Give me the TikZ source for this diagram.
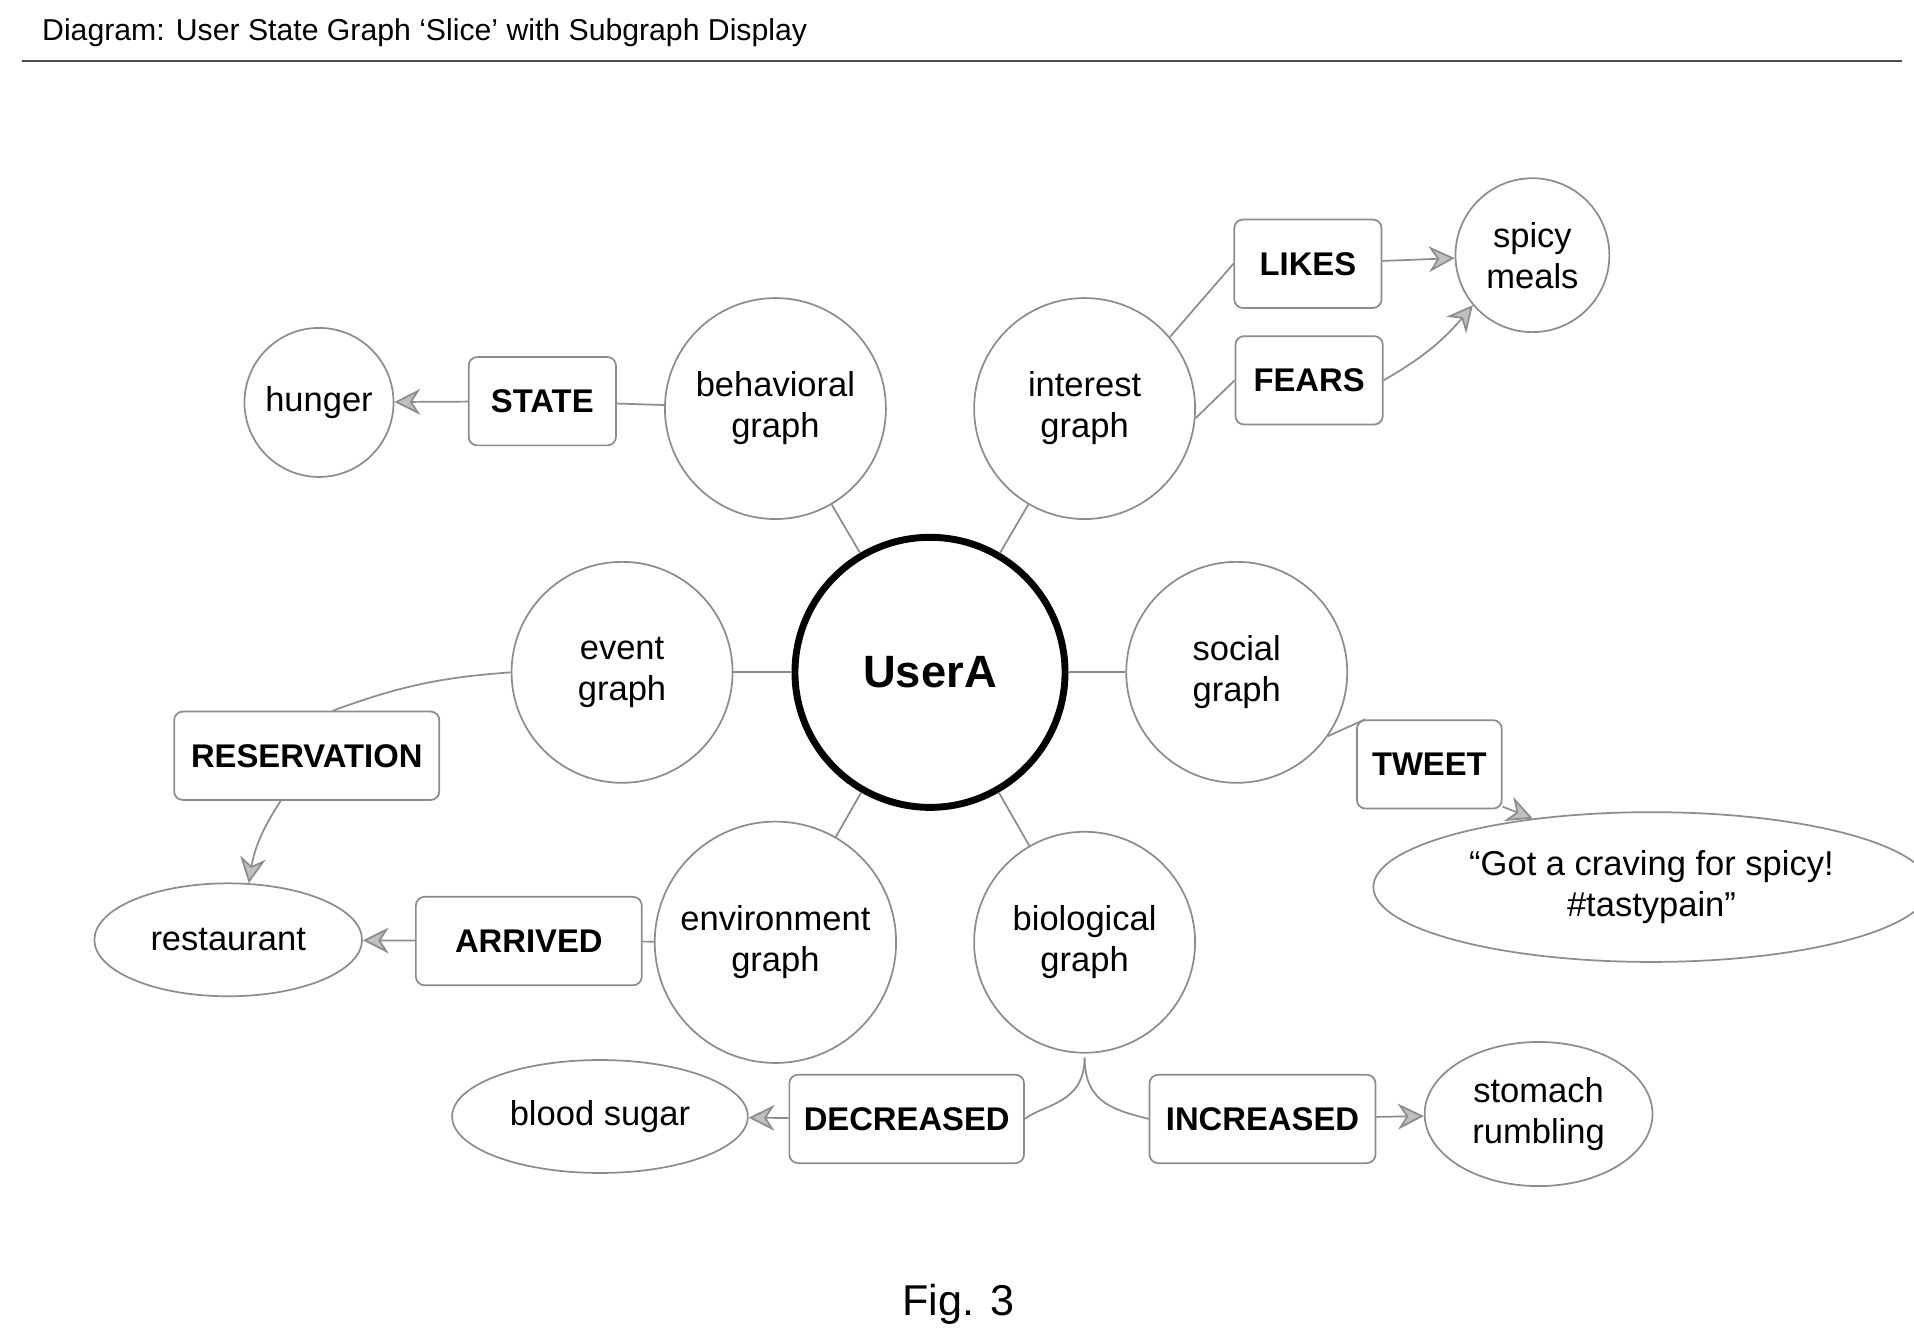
\documentclass[tikz,border=0pt]{standalone}
\usepackage{fontspec}
\setmainfont{Liberation Sans}
\usetikzlibrary{arrows.meta,shapes.geometric}
\tikzset{
  gnode/.style={draw=black!45,circle,minimum size=1.8cm,align=center,font=\fontsize{8}{9.5}\selectfont},
  leaf/.style={draw=black!45,circle,minimum size=1.16cm,align=center,font=\fontsize{8}{9.5}\selectfont},
  oval/.style={draw=black!45,ellipse,align=center,font=\fontsize{8}{9.5}\selectfont},
  rel/.style={draw=black!45,rounded corners=2pt,minimum height=0.72cm,font=\bfseries\fontsize{7.6}{9}\selectfont},
  link/.style={draw=black!45,thin},
  arr/.style={link,-{Stealth[length=6pt,width=6pt,fill=black!25]}}
}
\begin{document}
\begin{tikzpicture}[x=0.01cm,y=-0.01cm]
        \useasboundingbox (0,0) rectangle (1560,1095);
        \node[anchor=west,font=\fontsize{7}{8}\selectfont] (title) at (22,27) {Diagram: User State Graph `Slice' with Subgraph Display};
        \draw[black!70] (18,50) -- (1550,50);
        \node[draw,circle,line width=1.6pt,minimum size=2.2cm,font=\bfseries\fontsize{10.5}{12}\selectfont] (user) at (758,548) {UserA};
        \foreach \n/\x/\y/\t in {beh/632/333/behavioral, int/884/333/interest, evt/507/548/event,
          soc/1008/548/social, env/632/768/environment, bio/884/768/biological} {
          \node[gnode] (\n) at (\x,\y) {\t\\graph};
          \draw[link] (user) -- (\n);
        }
        % leaves
        \node[leaf] (hunger) at (260,328) {hunger};
        \node[leaf] (spicy) at (1249,208) {spicy\\meals};
        \node[oval,minimum width=2.18cm,minimum height=0.92cm] (rest) at (186,766) {restaurant};
        \node[oval,minimum width=3.32cm,minimum height=1.22cm] (tweettxt) at (1346,723) {``Got a craving for spicy!\\\#tastypain''};
        \node[oval,minimum width=2.18cm,minimum height=0.92cm] (sugar) at (489,910) {blood sugar};
        \node[oval,minimum width=1.82cm,minimum height=0.92cm] (stomach) at (1254,908) {stomach\\rumbling};
        % relations
        \node[rel,minimum width=1.2cm] (state) at (442,327) {STATE};
        \node[rel,minimum width=1.2cm] (likes) at (1066,215) {LIKES};
        \node[rel,minimum width=1.2cm] (fears) at (1067,310) {FEARS};
        \node[rel,minimum width=2.16cm] (resv) at (250,616) {RESERVATION};
        \node[rel,minimum width=1.84cm] (arrived) at (431,767) {ARRIVED};
        \node[rel,minimum width=1.18cm] (tweet) at (1165,623) {TWEET};
        \node[rel,minimum width=1.84cm] (decr) at (739,912) {DECREASED};
        \node[rel,minimum width=1.84cm] (incr) at (1029,912) {INCREASED};
        \coordinate (biob) at (884,862);
        \draw[link] (beh) -- (state);
        \draw[arr] (state) -- (hunger);
        \draw[link] (int.40) -- (likes.west);
        \draw[arr] (likes) -- (spicy);
        \draw[link] (int.-5) -- (fears.west);
        \draw[arr] (fears.east) to[bend right=10] (spicy.220);
        \draw[link] (evt.180) to[bend right=8] (resv.60);
        \draw[arr] (resv.-120) to[bend right=12] (rest.70);
        \draw[link] (env) -- (arrived);
        \draw[arr] (arrived) -- (rest);
        \draw[link] (soc.-35) -- (tweet.145);
        \draw[arr] (tweet.-30) -- (tweettxt.150);
        \draw[link] (biob) .. controls (884,900) and (850,900) .. (decr.east);
        \draw[arr] (decr) -- (sugar);
        \draw[link] (biob) .. controls (884,900) and (910,905) .. (incr.west);
        \draw[arr] (incr) -- (stomach);
        \node[font=\rmfamily\fontsize{10}{12}\selectfont] (fig) at (781,1063) {Fig. 3};
\end{tikzpicture}
\end{document}
